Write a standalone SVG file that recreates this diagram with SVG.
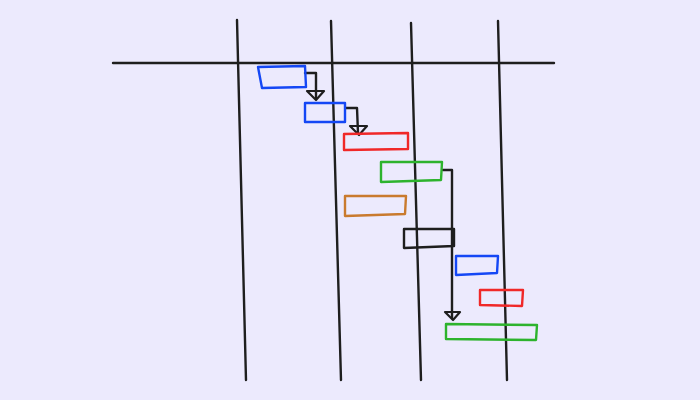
<svg xmlns="http://www.w3.org/2000/svg" width="700" height="400" viewBox="0 0 700 400">
<style>
.ln{fill:none;stroke:#1e1e1e;stroke-width:2.4;stroke-linecap:round;stroke-linejoin:round}
.bx{fill:none;stroke-width:2.4;stroke-linecap:round;stroke-linejoin:round}
.blue{stroke:#1447f5}
.red{stroke:#f02828}
.green{stroke:#2db32d}
.orange{stroke:#c97a2e}
.black{stroke:#1e1e1e}
.ah{fill:none;stroke:#1e1e1e;stroke-width:2.2;stroke-linejoin:round}
</style>
<rect width="700" height="400" fill="#eceafd"/>
<g id="grid">
<path class="ln" d="M113 63 L554 63"/>
<path class="ln" d="M237 20 L246 380"/>
<path class="ln" d="M331 21 L341 380"/>
<path class="ln" d="M411 23 L421 380"/>
<path class="ln" d="M498 21 L507 380"/>
</g>
<g id="connectors">
<path class="ln" d="M305 73 L316 73 L316 98"/>
<path class="ah" d="M307 91 L324 91 L316 100 Z"/>
<path class="ln" d="M346 108 L357 108 L358 133"/>
<path class="ah" d="M350 126 L367 126 L359 135 Z"/>
<path class="ln" d="M443 170 L452 170 L452 318"/>
<path class="ah" d="M445 312 L460 312 L453 320 Z"/>
</g>
<g id="task1"><path class="bx blue" d="M258 67 L305 66 L306 87 L262 88 Z"/></g>
<g id="task2"><path class="bx blue" d="M305 103 L345 103 L345 122 L305 122 Z"/></g>
<g id="task3"><path class="bx red" d="M344 134 L408 133 L408 149 L344 150 Z"/></g>
<g id="task4"><path class="bx green" d="M381 162 L442 162 L441 180 L381 182 Z"/></g>
<g id="task5"><path class="bx orange" d="M345 196 L406 196 L405 214 L345 216 Z"/></g>
<g id="task6"><path class="bx black" d="M404 229 L454 229 L454 246 L404 248 Z"/></g>
<g id="task7"><path class="bx blue" d="M456 256 L498 256 L497 273 L456 275 Z"/></g>
<g id="task8"><path class="bx red" d="M480 290 L523 290 L522 306 L480 305 Z"/></g>
<g id="task9"><path class="bx green" d="M446 324 L537 325 L536 340 L446 339 Z"/></g>
</svg>
